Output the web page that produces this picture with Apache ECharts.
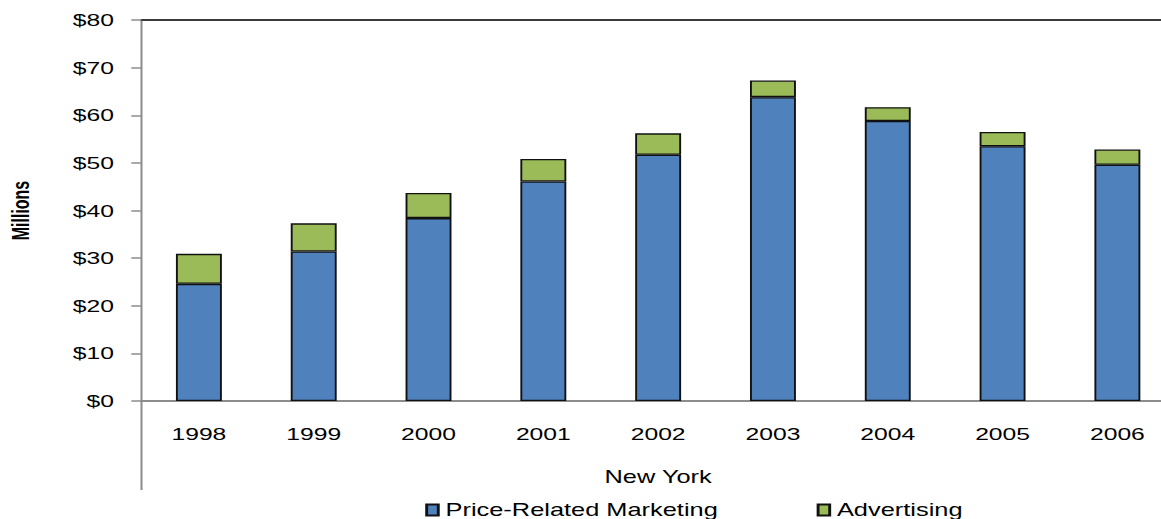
<!DOCTYPE html>
<html>
<head>
<meta charset="utf-8">
<script src="https://cdn.jsdelivr.net/npm/echarts@6/dist/echarts.min.js"></script>
<style>
  html, body { margin: 0; padding: 0; background: #fff; overflow: hidden; }
  #wrap { width: 1161px; height: 519px; overflow: hidden; }
  /* the chart is laid out on a narrower canvas and widened horizontally */
  #chart { width: 800px; height: 519px; transform: scaleX(1.45125); transform-origin: 0 0; }
</style>
</head>
<body>
<div id="wrap"><div id="chart"></div></div>
<script>
// Marketing spend by year, New York (millions of dollars)
const years = ['1998', '1999', '2000', '2001', '2002', '2003', '2004', '2005', '2006'];
const priceRelated = [24.6, 31.4, 38.4, 46.1, 51.7, 63.8, 58.8, 53.5, 49.6];
const advertising = [6.3, 5.9, 5.3, 4.7, 4.5, 3.5, 2.9, 3.0, 3.2];
const yTicks = { min: 0, max: 80, interval: 10 };

const font = '"Liberation Sans", Arial, sans-serif';
const chart = echarts.init(document.getElementById('chart'), null, { renderer: 'svg' });

const GRID_LEFT = 97.5, GRID_TOP = 20, GRID_BOTTOM_Y = 401;
const AXIS_GRAY = '#8c8c8c';

chart.setOption({
  animation: false,
  textStyle: { fontFamily: font },
  grid: {
    left: GRID_LEFT, top: GRID_TOP, width: 712, height: GRID_BOTTOM_Y - GRID_TOP,
    outerBoundsMode: 'none', containLabel: false
  },
  legend: {
    left: 288,
    top: 496,
    itemWidth: 8,
    itemHeight: 11,
    itemGap: 68,
    textStyle: { fontSize: 17.5, color: '#000', fontFamily: font },
    data: [
      { name: 'Price-Related Marketing', icon: 'rect' },
      { name: 'Advertising', icon: 'rect' }
    ]
  },
  xAxis: [
    {
      type: 'category',
      data: years,
      position: 'bottom',
      name: 'New York',
      nameLocation: 'middle',
      nameGap: 67,
      nameTextStyle: { fontSize: 17.5, color: '#000', fontFamily: font },
      axisLine: { lineStyle: { color: AXIS_GRAY, width: 2 } },
      axisTick: { show: false },
      axisLabel: { fontSize: 17, color: '#000', margin: 24, fontFamily: font }
    },
    {
      type: 'category',
      data: years,
      position: 'top',
      axisLine: { lineStyle: { color: '#3a3a3a', width: 2 } },
      axisTick: { show: false },
      axisLabel: { show: false }
    }
  ],
  yAxis: {
    type: 'value',
    min: yTicks.min,
    max: yTicks.max,
    interval: yTicks.interval,
    name: 'Millions',
    nameLocation: 'middle',
    nameGap: 75,
    nameRotate: 90,
    nameTextStyle: { fontSize: 16, fontWeight: 'bold', color: '#000', fontFamily: font },
    axisLine: { show: true, lineStyle: { color: AXIS_GRAY, width: 1.4 } },
    axisTick: { show: true, inside: false, length: 7, lineStyle: { color: AXIS_GRAY, width: 1.5 } },
    splitLine: { show: false },
    axisLabel: {
      fontSize: 17, color: '#000', margin: 19, fontFamily: font,
      formatter: v => '$' + v
    }
  },
  series: [
    {
      name: 'Price-Related Marketing',
      type: 'bar',
      stack: 'total',
      barWidth: '40%',
      data: priceRelated,
      itemStyle: { color: '#4f81bd', borderColor: '#111', borderWidth: 1.3 }
    },
    {
      name: 'Advertising',
      type: 'bar',
      stack: 'total',
      barWidth: '40%',
      data: advertising,
      itemStyle: { color: '#9bbb59', borderColor: '#111', borderWidth: 1.3 }
    }
  ],
  graphic: [
    {
      type: 'line',
      shape: { x1: GRID_LEFT, y1: GRID_BOTTOM_Y, x2: GRID_LEFT, y2: 490 },
      style: { stroke: AXIS_GRAY, lineWidth: 1.4 }
    }
  ]
});
</script>
</body>
</html>
